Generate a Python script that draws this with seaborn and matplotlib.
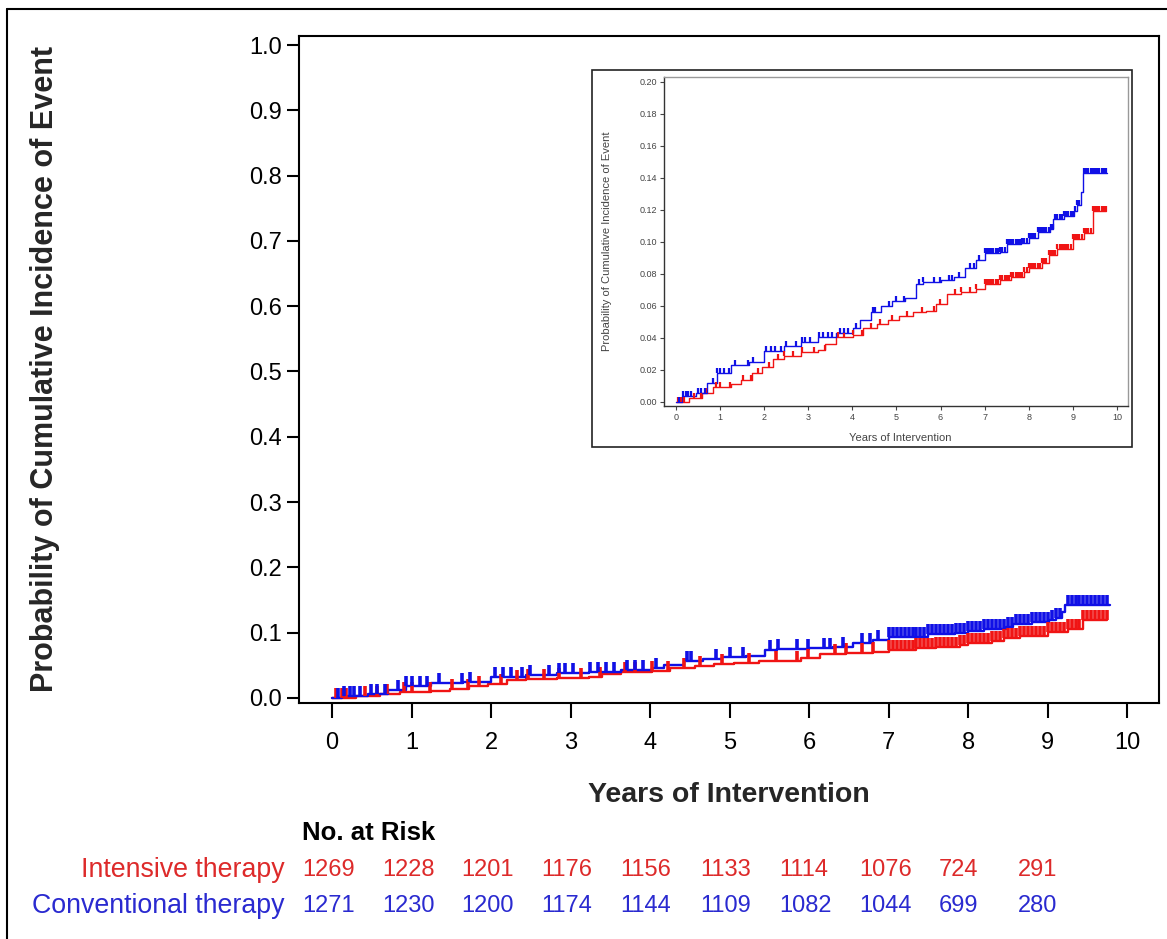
import numpy as np
import pandas as pd
import matplotlib
matplotlib.use("Agg")
import matplotlib.pyplot as plt
from matplotlib.lines import Line2D
from matplotlib.patches import Rectangle
import matplotlib.transforms as mtransforms
import seaborn as sns

# ---------------- data ----------------
groups = ["Intensive therapy", "Conventional therapy"]

int_times = [0, 0.30, 0.60, 0.85, 1.25, 1.48, 1.72, 1.96, 2.20, 2.44, 2.83, 3.23, 3.39, 3.63,
             4.02, 4.25, 4.56, 4.80, 5.05, 5.37, 5.67, 5.90, 6.14, 6.46, 6.80, 7.00, 7.35,
             7.60, 7.90, 8.00, 8.30, 8.45, 8.65, 9.00, 9.25, 9.45, 9.74]
int_prob = [0, 0.0025, 0.0056, 0.0093, 0.0114, 0.0138, 0.018, 0.022, 0.027, 0.029, 0.031,
            0.0324, 0.0365, 0.0405, 0.0417, 0.046, 0.049, 0.0514, 0.054, 0.056, 0.057, 0.061,
            0.0675, 0.0685, 0.0706, 0.0737, 0.076, 0.078, 0.081, 0.084, 0.087, 0.092, 0.0955,
            0.1015, 0.1057, 0.119, 0.119]

con_times = [0, 0.13, 0.45, 0.70, 0.93, 1.25, 1.65, 2.00, 2.44, 2.83, 3.23, 3.63, 4.02, 4.18,
             4.42, 4.66, 4.90, 5.20, 5.45, 5.60, 6.00, 6.30, 6.55, 6.80, 7.00, 7.35, 7.50,
             7.83, 8.00, 8.20, 8.48, 8.56, 8.80, 9.02, 9.10, 9.18, 9.22, 9.78]
con_prob = [0, 0.0035, 0.0056, 0.012, 0.018, 0.023, 0.025, 0.032, 0.035, 0.0375, 0.0405, 0.043,
            0.046, 0.051, 0.056, 0.060, 0.063, 0.065, 0.0735, 0.075, 0.076, 0.078, 0.084, 0.089,
            0.093, 0.094, 0.0985, 0.0995, 0.1025, 0.106, 0.108, 0.114, 0.116, 0.119, 0.123,
            0.131, 0.143, 0.143]

# censoring times (tick marks)
int_censor = [0.05, 0.12, 0.18, 0.42, 0.56, 0.69, 0.90, 1.00, 1.23, 1.51, 1.71, 1.85, 2.12,
              2.32, 2.46, 2.66, 2.86, 3.13, 3.37, 3.68, 3.81, 4.02, 4.22, 4.42, 4.63, 4.90,
              5.24, 5.58, 5.85, 5.98, 6.32, 6.46, 6.66, 6.80,
              7.00, 7.05, 7.10, 7.15, 7.20, 7.25, 7.30, 7.35, 7.40, 7.45, 7.50, 7.55, 7.60,
              7.65, 7.70, 7.75, 7.80, 7.85, 7.90, 7.95, 8.00, 8.05, 8.10, 8.15, 8.20, 8.25,
              8.30, 8.35, 8.40, 8.45, 8.50, 8.55, 8.60, 8.65, 8.70, 8.75, 8.80, 8.85, 8.90,
              8.95, 9.00, 9.05, 9.10, 9.15, 9.20, 9.25, 9.30, 9.35, 9.40, 9.45, 9.50, 9.55,
              9.60, 9.65, 9.70, 9.74]
con_censor = [0.08, 0.15, 0.22, 0.27, 0.35, 0.49, 0.56, 0.66, 0.83, 0.93, 1.00, 1.10, 1.20,
              1.34, 1.64, 1.74, 2.05, 2.15, 2.25, 2.39, 2.49, 2.73, 2.86, 2.93, 3.03, 3.24,
              3.34, 3.44, 3.54, 3.71, 3.81, 3.91, 4.08, 4.46, 4.52, 4.83, 5.00, 5.17, 5.51,
              5.61, 5.85, 5.98, 6.19, 6.26, 6.42, 6.66, 6.76, 6.87,
              7.00, 7.05, 7.10, 7.15, 7.20, 7.25, 7.30, 7.35, 7.40, 7.45, 7.50, 7.55, 7.60,
              7.65, 7.70, 7.75, 7.80, 7.85, 7.90, 7.95, 8.00, 8.05, 8.10, 8.15, 8.20, 8.25,
              8.30, 8.35, 8.40, 8.45, 8.50, 8.55, 8.60, 8.65, 8.70, 8.75, 8.80, 8.85, 8.90,
              8.95, 9.00, 9.05, 9.10, 9.15, 9.25, 9.30, 9.35, 9.40, 9.45, 9.50, 9.55, 9.60,
              9.65, 9.70, 9.75]

risk_years = [0, 1, 2, 3, 4, 5, 6, 7, 8, 9]
int_at_risk = [1269, 1228, 1201, 1176, 1156, 1133, 1114, 1076, 724, 291]
con_at_risk = [1271, 1230, 1200, 1174, 1144, 1109, 1082, 1044, 699, 280]

main_yticks = [0.0, 0.1, 0.2, 0.3, 0.4, 0.5, 0.6, 0.7, 0.8, 0.9, 1.0]
inset_yticks = [0.00, 0.02, 0.04, 0.06, 0.08, 0.10, 0.12, 0.14, 0.16, 0.18, 0.20]
xticks = [0, 1, 2, 3, 4, 5, 6, 7, 8, 9, 10]

RED = "#f01414"
BLUE = "#1010e6"
RED_TXT = "#dd2a2a"
BLUE_TXT = "#2a2ad0"

# ---------------- style ----------------
sns.set_theme(style="ticks")
plt.rcParams["font.family"] = ["Liberation Sans", "DejaVu Sans"]

df = pd.concat([
    pd.DataFrame({"time": int_times, "prob": int_prob, "group": groups[0]}),
    pd.DataFrame({"time": con_times, "prob": con_prob, "group": groups[1]}),
], ignore_index=True)
palette = {groups[0]: RED, groups[1]: BLUE}


def step_value(times, probs, c):
    t = np.asarray(times)
    p = np.asarray(probs)
    idx = np.searchsorted(t, np.asarray(c), side="right") - 1
    return p[idx]


def draw_curves(ax, lw, ms, mew):
    sns.lineplot(data=df, x="time", y="prob", hue="group", palette=palette,
                 drawstyle="steps-post", estimator=None, sort=False, legend=False,
                 linewidth=lw, ax=ax)
    for times, probs, cens, col in [(int_times, int_prob, int_censor, RED),
                                    (con_times, con_prob, con_censor, BLUE)]:
        ax.plot(cens, step_value(times, probs, cens), linestyle="none", marker=2,
                markersize=ms, markeredgewidth=mew, color=col)


fig = plt.figure(figsize=(11.67, 9.39), dpi=100)
W, H = 1167, 939

# ---------------- main axes ----------------
ax = fig.add_axes([299 / W, 1 - 703 / H, (1159 - 299) / W, (703 - 36) / H])
draw_curves(ax, lw=1.7, ms=7.5, mew=2.6)
ax.set_xlim(-0.416, 10.4)
ax.set_ylim(-0.0077, 1.0138)
ax.set_xticks(xticks)
ax.set_xticklabels([str(v) for v in xticks])
ax.set_yticks(main_yticks)
ax.set_yticklabels([f"{v:.1f}" for v in main_yticks])
ax.tick_params(axis="both", labelsize=17, colors="black", width=1.5)
ax.tick_params(axis="y", length=9, pad=3)
ax.tick_params(axis="x", length=11, pad=10)
for s in ax.spines.values():
    s.set_visible(True)
    s.set_linewidth(1.5)
    s.set_color("black")
ax.set_xlabel("Years of Intervention", fontsize=20.5, fontweight="bold", va="center")
ax.xaxis.set_label_coords(0.5, -0.138)
ax.set_ylabel("Probability of Cumulative Incidence of Event", fontsize=22,
              fontweight="bold", va="center")
ax.yaxis.set_label_coords(-0.295, 0.5)

# ---------------- risk table ----------------
blend = mtransforms.blended_transform_factory(ax.transData, fig.transFigure)
ax.text(-0.38, 1 - 833 / H, "No. at Risk", transform=blend, ha="left", va="center",
        fontsize=18.5, fontweight="bold", color="black")
ax.text(-0.60, 1 - 870 / H, groups[0], transform=blend, ha="right", va="center",
        fontsize=19.3, color=RED_TXT)
ax.text(-0.60, 1 - 906 / H, groups[1], transform=blend, ha="right", va="center",
        fontsize=19.3, color=BLUE_TXT)
for yr, a, b in zip(risk_years, int_at_risk, con_at_risk):
    ax.text(yr - 0.37, 1 - 870 / H, str(a), transform=blend, ha="left", va="center",
            fontsize=17, color=RED_TXT)
    ax.text(yr - 0.37, 1 - 906 / H, str(b), transform=blend, ha="left", va="center",
            fontsize=17, color=BLUE_TXT)

# ---------------- inset ----------------
fig.add_artist(Rectangle((592 / W, 1 - 447 / H), 540 / W, 377 / H, transform=fig.transFigure,
                         fill=True, facecolor="white", edgecolor="#222222", linewidth=1.2,
                         zorder=2))
axi = fig.add_axes([664 / W, 1 - 406 / H, (1128 - 664) / W, (406 - 77) / H], zorder=3)
draw_curves(axi, lw=1.0, ms=3.8, mew=1.6)
axi.set_xlim(-0.27, 10.25)
axi.set_ylim(-0.0025, 0.203)
axi.set_xticks(xticks)
axi.set_xticklabels([str(v) for v in xticks])
axi.set_yticks(inset_yticks)
axi.set_yticklabels([f"{v:.2f}" for v in inset_yticks])
axi.tick_params(axis="both", labelsize=6.5, colors="#444444", length=3, width=0.8, pad=2)
for k, s in axi.spines.items():
    s.set_visible(True)
    s.set_linewidth(1.0)
    s.set_color("#333333" if k in ("left", "bottom") else "#999999")
axi.set_xlabel("Years of Intervention", fontsize=8, color="#444444", va="center")
axi.xaxis.set_label_coords(0.509, -0.097)
axi.set_ylabel("Probability of Cumulative Incidence of Event", fontsize=8,
               color="#444444", va="center")
axi.yaxis.set_label_coords(-0.123, 0.5)

# ---------------- figure frame ----------------
fig.add_artist(Line2D([7 / W, 7 / W], [0, 1 - 9 / H], transform=fig.transFigure,
                      color="black", linewidth=1.5))
fig.add_artist(Line2D([7 / W, 1.0], [1 - 9 / H, 1 - 9 / H], transform=fig.transFigure,
                      color="black", linewidth=1.5))

fig.savefig("out.png", dpi=100, facecolor="white")
